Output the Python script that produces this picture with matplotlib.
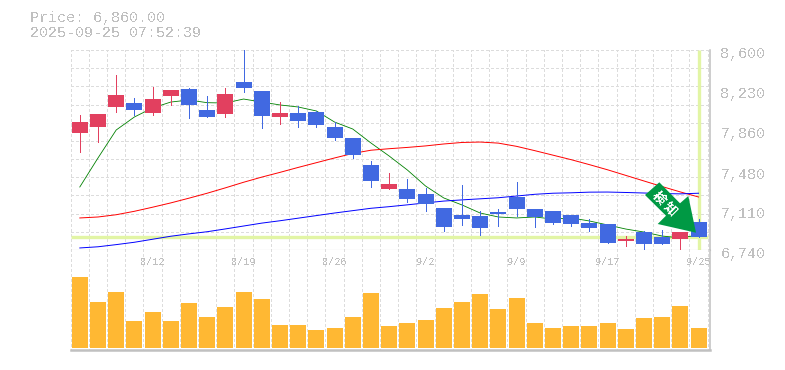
import numpy as np
import matplotlib
matplotlib.use('Agg')
import matplotlib.pyplot as plt
from matplotlib.patches import Polygon, Rectangle
from matplotlib.transforms import ScaledTranslation

# 価格データ
opens = [7828, 7884, 8070, 8107, 8014, 8172, 8237, 8042, 8005, 8302, 8219, 7977,
         8014, 8023, 7884, 7782, 7530, 7307, 7307, 7261, 7131, 7065, 7056, 7093,
         7233, 7121, 7103, 7065, 6991, 6982, 6824, 6907, 6861, 6842, 7000]
closes = [7930, 8005, 8182, 8042, 8144, 8228, 8089, 7977, 8191, 8247, 7986, 8014,
          7940, 7902, 7782, 7624, 7382, 7354, 7214, 7168, 6954, 7028, 6945, 7075,
          7121, 7047, 6991, 6982, 6945, 6805, 6842, 6796, 6796, 6907, 6860]
highs = [7996, 8005, 8367, 8154, 8256, 8228, 8247, 8172, 8247, 8600, 8219, 8116,
         8079, 8033, 7930, 7782, 7568, 7456, 7400, 7317, 7131, 7345, 7103, 7121,
         7372, 7121, 7103, 7065, 7028, 6982, 6870, 6917, 6926, 6907, 7028]
lows = [7651, 7744, 8023, 7996, 7996, 8089, 7968, 7977, 7977, 8209, 7875, 7912,
        7884, 7884, 7763, 7596, 7326, 7307, 7186, 7103, 6917, 6973, 6880, 6963,
        7056, 6954, 6982, 6963, 6917, 6805, 6777, 6749, 6796, 6731, 6860]
ma_short = [7326, 7596, 7856, 7977, 8061, 8116, 8135, 8110, 8107, 8144, 8116, 8089,
            8070, 8033, 7930, 7865, 7735, 7614, 7484, 7335, 7224, 7159, 7084, 7047,
            7038, 7047, 7028, 7038, 7010, 6973, 6935, 6907, 6870, 6852, 6880]
ma_mid = [7038, 7047, 7068, 7100, 7138, 7178, 7222, 7268, 7318, 7370, 7418, 7462,
          7508, 7552, 7596, 7638, 7668, 7682, 7694, 7708, 7726, 7740, 7744, 7734,
          7704, 7664, 7622, 7580, 7534, 7486, 7434, 7382, 7330, 7280, 7233]
ma_long = [6759, 6770, 6790, 6812, 6840, 6868, 6890, 6910, 6936, 6963, 6990, 7012,
           7036, 7060, 7084, 7106, 7128, 7143, 7160, 7178, 7195, 7206, 7216, 7226,
           7242, 7258, 7268, 7272, 7278, 7279, 7275, 7270, 7265, 7262, 7268]
volumes = [71, 46, 56, 27, 36, 27, 45, 31, 41, 56, 49, 23, 23, 18, 20, 31, 55, 22,
           25, 28, 40, 46, 54, 39, 50, 25, 20, 22, 22, 25, 19, 30, 31, 42, 20]
last_price = 6860
price_ticks = [8600, 8230, 7860, 7480, 7110, 6740]
date_pos = [4, 9, 14, 19, 24, 29, 34]
date_labels = ['8/12', '8/19', '8/26', '9/2', '9/9', '9/17', '9/25']

UP = '#e2405f'
DOWN = '#4169e1'
VOL = '#ffb833'
GRID = '#dcdcdc'
AXIS = '#c0c0c0'
TEXT = '#c0c0c0'
HILITE = '#e2f5a5'
W, H = 785, 370
DASH = (0, (1.8, 1.8))

plt.rcParams['font.family'] = ['Liberation Mono', 'DejaVu Sans Mono']
plt.rcParams['text.antialiased'] = False

fig = plt.figure(figsize=(W / 100, H / 100), dpi=100, facecolor='w')


def box(x0, y0, x1, y1):
    # ピクセル座標(上から) -> figure座標
    return [x0 / W, 1 - y1 / H, (x1 - x0) / W, (y1 - y0) / H]


ax = fig.add_axes(box(70.7, 50, 710, 250))
ax2 = fig.add_axes(box(70.7, 250, 710, 350))
x = np.arange(len(opens))
xlim = (-0.5, 34.63)

# グリッド
ax.hlines(np.linspace(6740, 8600, 12)[1:], -0.5, 34.5, color=GRID, lw=0.8, linestyles=DASH, zorder=1,
          antialiased=False)
for a in (ax, ax2):
    a.vlines(x=np.arange(36) - 0.5, ymin=-1e4, ymax=1e4, color=GRID, lw=0.8, linestyles=DASH, zorder=1,
             antialiased=False)

# 現在値のライン
ax.plot([-0.5, 34.5], [last_price, last_price], color=HILITE, lw=2.4, zorder=2, solid_capstyle='butt')
ax.plot([x[-1], x[-1]], [6740, 8600], color=HILITE, lw=2.4, zorder=2, solid_capstyle='butt')

# 移動平均
ax.plot(x, ma_short, color='#008000', lw=0.6, zorder=2.5)
ax.plot(x, ma_mid, color='#ff0000', lw=0.7, zorder=2.5)
ax.plot(x, ma_long, color='#0000ff', lw=0.7, zorder=2.5)

# ローソク足
for i in x:
    c = UP if closes[i] >= opens[i] else DOWN
    ax.vlines(i, lows[i], highs[i], color=c, lw=0.5, zorder=3, clip_on=False, antialiased=False)
    lo = min(opens[i], closes[i])
    ax.add_patch(Rectangle((i - 0.44, lo), 0.88, abs(closes[i] - opens[i]), color=c, lw=0, zorder=3,
                           antialiased=False))

ax.set_xlim(*xlim)
ax.set_ylim(6740, 8600)
ax.yaxis.tick_right()
ax.set_yticks(price_ticks)
ax.set_yticklabels([f'{p:,}' for p in price_ticks], fontsize=10.8, color=TEXT)
ax.tick_params(axis='y', length=0, pad=7.5)
shift = ScaledTranslation(0, -2 / 72, fig.dpi_scale_trans)
for t in ax.get_yticklabels():
    t.set_transform(t.get_transform() + shift)
ax.set_xticks([])
for s in ('left', 'top'):
    ax.spines[s].set_visible(False)
ax.spines['bottom'].set_color(AXIS)
ax.spines['right'].set_color(AXIS)
ax.spines['right'].set_linewidth(1.1)

# 出来高
ax2.bar(x, volumes, width=0.88, color=VOL, zorder=3, antialiased=False)
ax2.set_xlim(*xlim)
ax2.set_ylim(-2.3, 97.7)
ax2.set_yticks([])
ax2.set_xticks(date_pos)
ax2.set_xticklabels(date_labels, fontsize=7.4, color=TEXT)
ax2.tick_params(axis='x', length=0)
for t in ax2.get_xticklabels():
    t.set_y(1)
    t.set_va('center')
    t.set_transform(t.get_transform() + ScaledTranslation(0, -7 / 100, fig.dpi_scale_trans))
for s in ('left', 'top'):
    ax2.spines[s].set_visible(False)
ax2.spines['bottom'].set_color(AXIS)
ax2.spines['bottom'].set_linewidth(1.8)
ax2.spines['right'].set_color(AXIS)
ax2.spines['right'].set_linewidth(1.1)

# ヘッダー
fig.text(30 / W, 1 - 18 / H, 'Price: 6,860.00', fontsize=10.8, color=TEXT, va='center')
fig.text(30 / W, 1 - 33 / H, '2025-09-25 07:52:39', fontsize=10.8, color=TEXT, va='center')

# 矢印
arrow_px = [(659.3, 182.3), (680, 203.3), (688.3, 196), (696, 232.7), (657.7, 224), (666, 215.7), (645, 195)]
fig.add_artist(Polygon([(a / W, 1 - b / H) for a, b in arrow_px], closed=True, transform=fig.transFigure,
                       facecolor='#009944', edgecolor='none', zorder=10))
fig.text(659 / W, 1 - 198 / H, '検', fontsize=9.5, color='w', rotation=-45, ha='center', va='center',
         family=['Noto Sans CJK JP'], weight='bold', zorder=11)
fig.text(670 / W, 1 - 209 / H, '知', fontsize=9.5, color='w', rotation=-45, ha='center', va='center',
         family=['Noto Sans CJK JP'], weight='bold', zorder=11)

fig.savefig('out.png', dpi=100)
